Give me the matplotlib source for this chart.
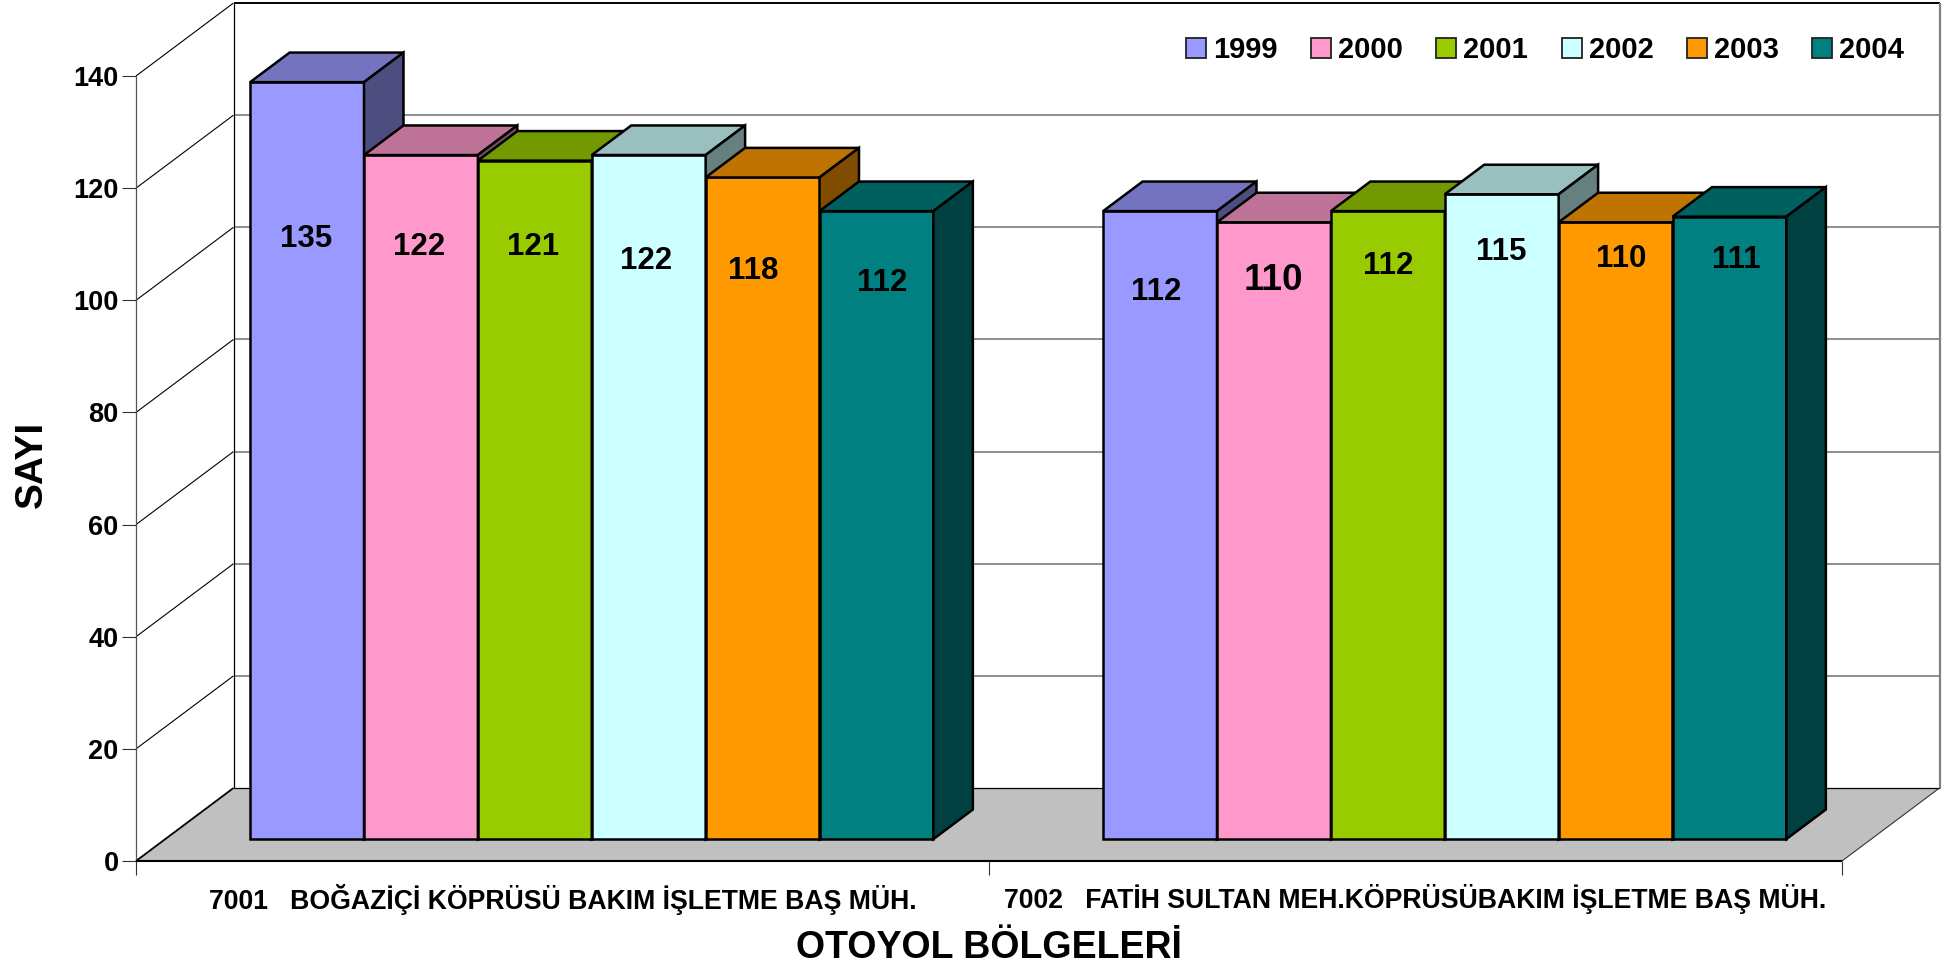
import matplotlib
matplotlib.use("Agg")
import matplotlib.pyplot as plt
from matplotlib.patches import Polygon, Patch
from matplotlib.transforms import IdentityTransform

# ---- data ----
categories = ["7001   BOĞAZİÇİ KÖPRÜSÜ BAKIM İŞLETME BAŞ MÜH.",
              "7002   FATİH SULTAN MEH.KÖPRÜSÜBAKIM İŞLETME BAŞ MÜH."]
years = ["1999", "2000", "2001", "2002", "2003", "2004"]
values_1999 = [135, 112]
values_2000 = [122, 110]
values_2001 = [121, 112]
values_2002 = [122, 115]
values_2003 = [118, 110]
values_2004 = [112, 111]
series = [values_1999, values_2000, values_2001, values_2002, values_2003, values_2004]
y_ticks = [0, 20, 40, 60, 80, 100, 120, 140]
colors = ["#9999FF", "#FF99CC", "#99CC00", "#CCFFFF", "#FF9900", "#008080"]

# ---- layout ----
W, H = 1955, 969
L, R, B, T = 136, 1842, 861, 76           # front plane, pixels
DEPTH_PX = (97.5, 73.0)                   # full depth of the box, pixels
BAR_D0, BAR_D1 = 0.30, 0.705              # bar depth range
BAR_W = 0.1335                            # bar width in group units
# manual label nudges (px from top-centre of the bar's front face)
label_dx = [[-1, -4], [-2, -1], [-2, 0], [-3, 0], [-9, 6], [6, 7]]
label_dy = [[-157, -81], [-92, -58], [-86, -55], [-106, -58], [-94, -37], [-72, -43]]
label_fs = [[22.5, 22.5], [22.5, 26.5], [22.5, 22.5], [22.5, 22.5], [22.5, 22.5], [22.5, 22.5]]

plt.rcParams["font.family"] = ["Liberation Sans", "DejaVu Sans"]
plt.rcParams["font.weight"] = "bold"

fig = plt.figure(figsize=(W / 100, H / 100), dpi=100, facecolor="white")
ax = fig.add_axes([L / W, 1 - B / H, (R - L) / W, (B - T) / H])
ax.set_xlim(0, 2)
ax.set_ylim(0, 140)
ax.patch.set_visible(False)
for s in ax.spines.values():
    s.set_visible(False)

dx_unit = DEPTH_PX[0] / ((R - L) / 2)
dy_unit = DEPTH_PX[1] / ((B - T) / 140)


def P(x, y, d=0.0):
    return (x + d * dx_unit, y + d * dy_unit)


def poly(pts, fc, ec="black", lw=1.8, z=2):
    ax.add_patch(Polygon(pts, closed=True, fc=fc, ec=ec, lw=lw, zorder=z,
                         clip_on=False, joinstyle="miter"))


def line(a, b, c="black", lw=0.8, z=1.5):
    ax.plot([a[0], b[0]], [a[1], b[1]], color=c, lw=lw, zorder=z, clip_on=False,
            solid_capstyle="butt")


# floor
poly([P(0, 0), P(2, 0), P(2, 0, 1), P(0, 0, 1)], "#C0C0C0", ec="none", lw=0, z=1)
# walls and gridlines
for v in y_ticks:
    if v == 0:
        continue
    line(P(0, v), P(0, v, 1), "black", 0.8)
    line(P(0, v, 1), P(2, v, 1), "black" if v == 140 else "#707070", 1.4 if v == 140 else 1.1)
line(P(0, 0), P(0, 0, 1), "black", 1.3)
line(P(0, 0), P(0, 140), "#555555", 0.9)
line(P(0, 0, 1), P(0, 140, 1), "black", 0.9)
line(P(0, 0, 1), P(2, 0, 1), "black", 0.9)
line(P(2, 0), P(2, 0, 1), "#333333", 0.8)
line(P(2, 0, 1), P(2, 140, 1), "#808080", 1.6)
line(P(0, 0), P(2, 0), "black", 1.5, z=1.6)

# bars, painted left to right
n = len(series)
for g in range(len(categories)):
    gc = g + 0.5
    for i, vals in enumerate(series):
        v = vals[g]
        x0 = gc + (i - n / 2) * BAR_W
        x1 = x0 + BAR_W
        c = matplotlib.colors.to_rgb(colors[i])
        top = tuple(k * 0.75 for k in c)
        side = tuple(k * 0.5 for k in c)
        z = 3 + g * 10 + i * 0.1
        poly([P(x0, 0, BAR_D0), P(x1, 0, BAR_D0), P(x1, v, BAR_D0), P(x0, v, BAR_D0)], c, z=z)
        poly([P(x0, v, BAR_D0), P(x1, v, BAR_D0), P(x1, v, BAR_D1), P(x0, v, BAR_D1)], top, z=z)
        poly([P(x1, 0, BAR_D0), P(x1, 0, BAR_D1), P(x1, v, BAR_D1), P(x1, v, BAR_D0)], side, z=z)
        ax.annotate(str(v), xy=P((x0 + x1) / 2, v, BAR_D0),
                    xytext=(label_dx[i][g], label_dy[i][g]), textcoords="offset pixels",
                    ha="center", va="center", fontsize=label_fs[i][g], fontweight="bold",
                    color="black", zorder=50, annotation_clip=False)

# ticks
ax.set_yticks(y_ticks)
ax.set_yticklabels([str(v) for v in y_ticks], fontsize=19.5, fontweight="bold")
ax.set_xticks([0, 1, 2])
ax.set_xticklabels([])
ax.set_xticks([0.5, 1.5], categories, minor=True, fontsize=19.2, fontweight="bold")
ax.tick_params(axis="y", length=10, width=0.8, pad=2.5, color="#333333")
ax.tick_params(axis="x", which="major", length=10, width=0.8, color="#333333")
ax.tick_params(axis="x", which="minor", length=0, pad=16.5)

ax.set_xlabel("OTOYOL BÖLGELERİ", fontsize=27, fontweight="bold", labelpad=11)
ax.set_ylabel("SAYI", fontsize=28, fontweight="bold", labelpad=17)
ax.yaxis.label.set_y(0.505)

# legend
handles = [Patch(fc=c, ec="#222222", lw=1.3, label=y) for c, y in zip(colors, years)]
ax.legend(handles=handles, ncol=6, loc="center left", bbox_to_anchor=(1186, H - 50),
          bbox_transform=IdentityTransform(), frameon=False, fontsize=21,
          handlelength=0.685, handleheight=0.685, handletextpad=0.24,
          columnspacing=1.15, borderpad=0, borderaxespad=0)

fig.savefig("out.png", dpi=100, facecolor="white")
